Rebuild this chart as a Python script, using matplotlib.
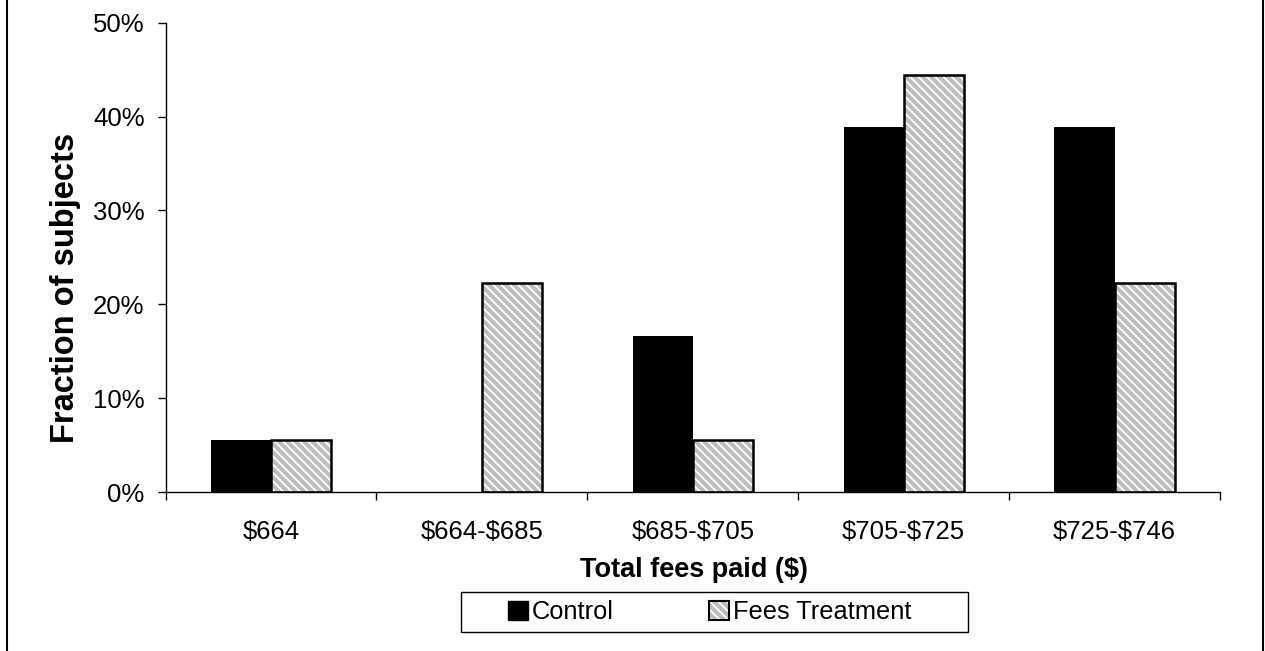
import matplotlib
matplotlib.use("Agg")
import matplotlib.pyplot as plt
from matplotlib.patches import Patch, Rectangle
from matplotlib.legend_handler import HandlerTuple
from matplotlib.lines import Line2D
from matplotlib.ticker import FixedLocator, PercentFormatter
import numpy as np

categories = ["$664", "$664-$685", "$685-$705", "$705-$725", "$725-$746"]
control = [5.56, 0.0, 16.67, 38.89, 38.89]
fees_treatment = [5.56, 22.22, 5.56, 44.44, 22.22]
series_names = ["Control", "Fees Treatment"]
yticks = [0, 10, 20, 30, 40, 50]

plt.rcParams['font.family'] = ['Liberation Sans', 'DejaVu Sans']
plt.rcParams['text.parse_math'] = False
plt.rcParams['hatch.linewidth'] = 1.3
FS_TICK = 18.5
FS_XLABEL = 19.5
FS_YLABEL = 23.5
FS_LEG = 18.3
HATCH_FACE = '#bdbdbd'

W, H = 1265, 651
fig = plt.figure(figsize=(W / 100, H / 100), dpi=100)
ax = fig.add_axes([165.5 / W, 1 - 492 / H, (1220 - 165.5) / W, (492 - 22.7) / H])

x = np.arange(len(categories))
w = 0.285
ax.bar(x - w / 2, control, width=w, color='black', edgecolor='black', linewidth=0)
ax.bar(x + w / 2, fees_treatment, width=w, color=HATCH_FACE, edgecolor='white',
       linewidth=0, hatch='\\\\\\\\')
ax.bar(x + w / 2, fees_treatment, width=w, fill=False, edgecolor='black', linewidth=1.8)

ax.set_xlim(-0.5, len(categories) - 0.5)
ax.set_ylim(0, 50)
ax.yaxis.set_major_locator(FixedLocator(yticks))
ax.yaxis.set_major_formatter(PercentFormatter(decimals=0))
ax.set_xticks(x)
ax.set_xticklabels(categories)
ax.xaxis.set_minor_locator(FixedLocator(np.arange(-0.5, len(categories), 1.0)))
ax.tick_params(axis='x', which='major', length=0, pad=20, labelsize=FS_TICK)
ax.tick_params(axis='x', which='minor', length=6, width=1, direction='out')
ax.tick_params(axis='y', length=6, width=1, direction='out', pad=9, labelsize=FS_TICK)

for s in ['top', 'right']:
    ax.spines[s].set_visible(False)
for s in ['left', 'bottom']:
    ax.spines[s].set_linewidth(1)

ax.set_xlabel("Total fees paid ($)", fontsize=FS_XLABEL, fontweight='bold')
ax.xaxis.set_label_coords(0.501, -0.138)
ax.set_ylabel("Fraction of subjects", fontsize=FS_YLABEL, fontweight='bold')
ax.yaxis.set_label_coords(-0.080, 0.435)

# legend
h_control = Patch(facecolor='black', edgecolor='black')
h_fill = Patch(facecolor=HATCH_FACE, edgecolor='white', linewidth=0, hatch='\\\\\\\\')
h_edge = Patch(fill=False, edgecolor='black', linewidth=1.5)
leg = fig.legend([h_control, (h_fill, h_edge)], series_names,
                 handler_map={tuple: HandlerTuple(ndivide=1, pad=0)},
                 loc='center', bbox_to_anchor=(710 / W, 1 - 612 / H),
                 ncol=2, frameon=False, fontsize=FS_LEG,
                 handlelength=0.79, handleheight=0.79, handletextpad=0.16,
                 columnspacing=3.74, borderpad=0)

fig.patches.append(Rectangle((461 / W, 1 - 632 / H), (968 - 461) / W, 40 / H,
                             transform=fig.transFigure, fill=False,
                             edgecolor='black', linewidth=1))
# outer frame lines
fig.lines.append(Line2D([6.5 / W, 6.5 / W], [0, 1], transform=fig.transFigure,
                        color='black', linewidth=1.5))
fig.lines.append(Line2D([1262.5 / W, 1262.5 / W], [0, 1], transform=fig.transFigure,
                        color='black', linewidth=1.5))

fig.savefig("out.png", dpi=100)
